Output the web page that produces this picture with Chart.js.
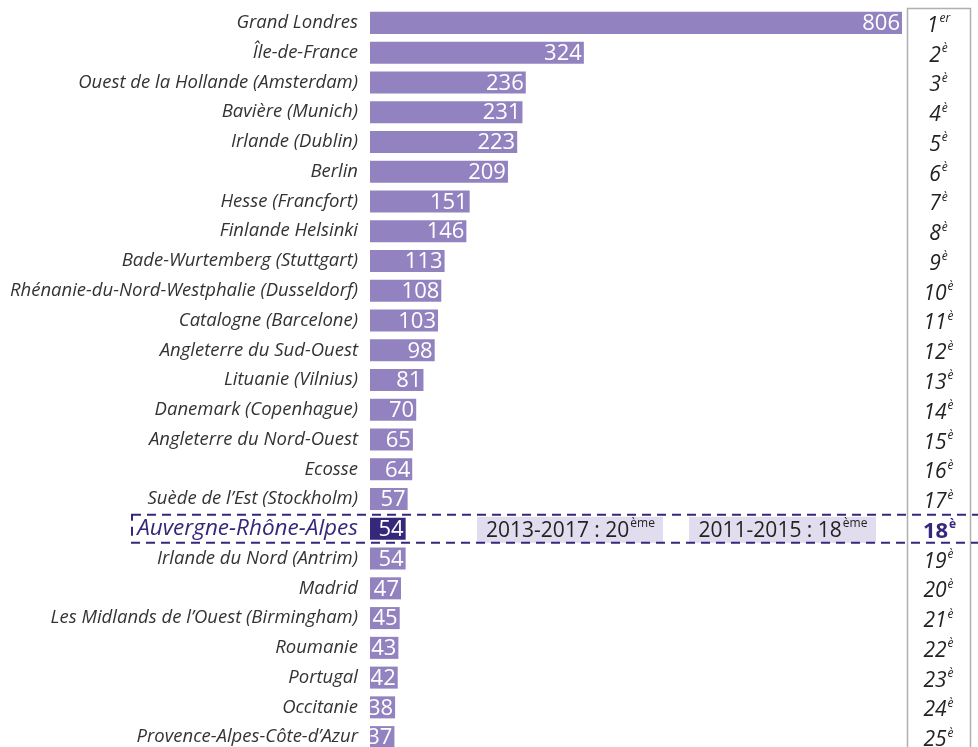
<!DOCTYPE html>
<html lang="fr">
<head>
<meta charset="utf-8">
<script src="https://cdn.jsdelivr.net/npm/chart.js@4.4.0/dist/chart.umd.min.js"></script>
<style>
  html, body { margin: 0; padding: 0; background: #fff; overflow: hidden; }
  #wrap { position: relative; width: 978px; height: 752px; }
</style>
</head>
<body>
<div id="wrap"><canvas id="chart"></canvas></div>
<script>
// regions classees
const regions = [
  "Grand Londres", "Île-de-France", "Ouest de la Hollande (Amsterdam)", "Bavière (Munich)",
  "Irlande (Dublin)", "Berlin", "Hesse (Francfort)", "Finlande Helsinki",
  "Bade-Wurtemberg (Stuttgart)", "Rhénanie-du-Nord-Westphalie (Dusseldorf)",
  "Catalogne (Barcelone)", "Angleterre du Sud-Ouest", "Lituanie (Vilnius)",
  "Danemark (Copenhague)", "Angleterre du Nord-Ouest", "Ecosse", "Suède de l’Est (Stockholm)",
  "Auvergne-Rhône-Alpes", "Irlande du Nord (Antrim)", "Madrid",
  "Les Midlands de l’Ouest (Birmingham)", "Roumanie", "Portugal", "Occitanie",
  "Provence-Alpes-Côte-d’Azur"
];
const valeurs = [806, 324, 236, 231, 223, 209, 151, 146, 113, 108, 103, 98, 81, 70, 65, 64, 57, 54, 54, 47, 45, 43, 42, 38, 37];
const rangNum = ["1", "2", "3", "4", "5", "6", "7", "8", "9", "10", "11", "12", "13",
  "14", "15", "16", "17", "18", "19", "20", "21", "22", "23", "24", "25"];
const rangSup = ["er", "è", "è", "è", "è", "è", "è", "è", "è", "è", "è", "è", "è",
  "è", "è", "è", "è", "è", "è", "è", "è", "è", "è", "è", "è"];
const highlight = "Auvergne-Rhône-Alpes";
const periodes = [["2013-2017 : 20", "ème"], ["2011-2015 : 18", "ème"]];

const hi = regions.indexOf(highlight);
const violet = "#9283c0";
const violetFonce = "#35287a";
const FONT = "'Open Sans', sans-serif";

// texte avec exposant
function supText(ctx, base, sup, x, y, size, weight, style, align) {
  const big = style + " " + weight + " " + size + "px " + FONT;
  const small = style + " " + weight + " " + Math.round(size * 0.55) + "px " + FONT;
  ctx.font = big;
  const w1 = ctx.measureText(base).width;
  ctx.font = small;
  const w2 = ctx.measureText(sup).width;
  let x0 = x;
  if (align === "center") x0 = x - (w1 + w2) / 2;
  ctx.textAlign = "left";
  ctx.textBaseline = "middle";
  ctx.font = big;
  ctx.fillText(base, x0, y);
  ctx.font = small;
  ctx.fillText(sup, x0 + w1 + 1, y - size * 0.33);
}

const overlay = {
  id: "overlay",
  afterDatasetsDraw(chart) {
    const ctx = chart.ctx;
    const yS = chart.scales.y;
    const meta = chart.getDatasetMeta(0);
    ctx.save();
    // valeurs dans les barres
    meta.data.forEach((bar, i) => {
      ctx.fillStyle = "#fff";
      ctx.font = "22px " + FONT;
      ctx.textAlign = "right";
      ctx.textBaseline = "middle";
      ctx.fillText(String(valeurs[i]), bar.x - 2, bar.y + 1);
    });
    // colonne des rangs
    ctx.strokeStyle = "#b0b0b0";
    ctx.lineWidth = 1.5;
    ctx.strokeRect(907.5, 8.5, 63, 760);
    regions.forEach((r, i) => {
      const y = yS.getPixelForValue(i) + 3;
      if (i === hi) {
        ctx.fillStyle = violetFonce;
        supText(ctx, rangNum[i], rangSup[i], 939, y, 22, "bold", "normal", "center");
      } else {
        ctx.fillStyle = "#222";
        supText(ctx, rangNum[i], rangSup[i], 938, y, 21, "normal", "italic", "center");
      }
    });
    // ligne mise en avant
    const yh = yS.getPixelForValue(hi);
    const boxes = [[477, 663], [689, 876]];
    boxes.forEach((b, k) => {
      ctx.fillStyle = "#e1ddef";
      ctx.fillRect(b[0], yh - 12, b[1] - b[0], 26);
      ctx.fillStyle = "#222";
      supText(ctx, periodes[k][0], periodes[k][1], (b[0] + b[1]) / 2, yh + 2, 21, "normal", "normal", "center");
    });
    ctx.strokeStyle = violetFonce;
    ctx.lineWidth = 2;
    ctx.setLineDash([9, 6]);
    ctx.strokeRect(132, yh - 14, 860, 28);
    ctx.restore();
  }
};

new Chart(document.getElementById("chart"), {
  type: "bar",
  data: {
    labels: regions,
    datasets: [{
      data: valeurs,
      backgroundColor: regions.map((r, i) => (i === hi ? violetFonce : violet)),
      barPercentage: 0.74,
      categoryPercentage: 1
    }]
  },
  options: {
    indexAxis: "y",
    responsive: true,
    maintainAspectRatio: false,
    animation: false,
    layout: { padding: { top: 8, right: 76, bottom: 0, left: 0 } },
    plugins: { legend: { display: false }, tooltip: { enabled: false } },
    scales: {
      x: {
        display: false,
        min: 0,
        max: 806
      },
      y: {
        grid: { display: false, drawTicks: false },
        border: { display: false },
        afterFit(scale) {
          scale.width = 370;
          scale.paddingTop = 0;
          scale.paddingBottom = 0;
        },
        ticks: {
          padding: 12,
          autoSkip: false,
          color: (c) => (c.index === hi ? violetFonce : "#333"),
          font: (c) => (c.index === hi
            ? { family: FONT, size: 22.5, style: "italic" }
            : { family: FONT, size: 18.5, style: "italic" })
        }
      }
    }
  },
  plugins: [overlay]
});
</script>
</body>
</html>
